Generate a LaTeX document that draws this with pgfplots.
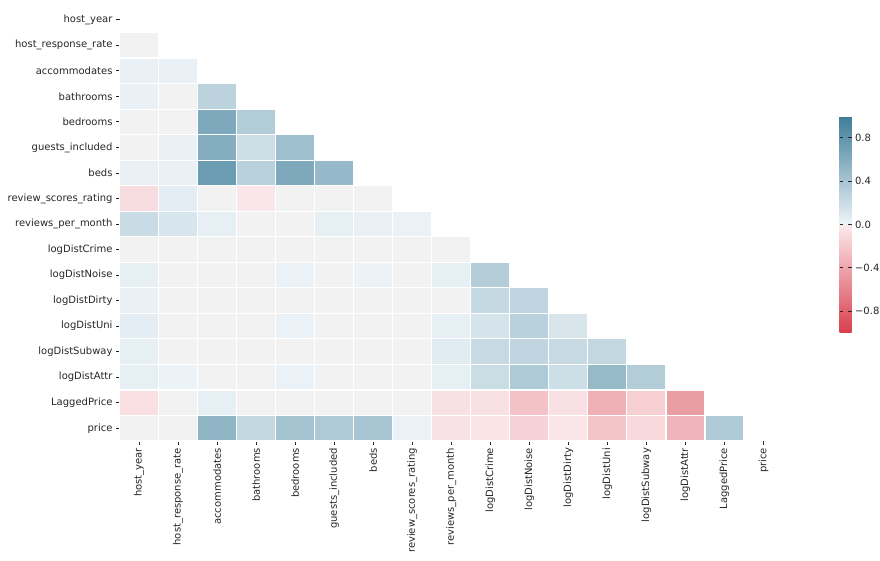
\documentclass[border=0pt]{standalone}
\usepackage{pgfplots}
\pgfplotsset{compat=1.18}
\usepackage{fontspec}
\setmainfont{DejaVu Sans}
\definecolor{txt}{gray}{0.15}
\pgfdeclareplotmark{cell}{%
  \pgfpathrectangle{\pgfpoint{-19.515pt}{-12.765pt}}{\pgfpoint{39.03pt}{25.53pt}}%
  \pgfusepathqfillstroke}
\begin{document}
\begin{tikzpicture}
\useasboundingbox (0,0) rectangle (880pt,-561pt);
\begin{axis}[
  at={(119.5pt,-7pt)}, anchor=north west,
  scale only axis, width=663.5pt, height=434pt,
  xmin=-0.5, xmax=16.5, ymin=-0.5, ymax=16.5,
  y dir=reverse,
  axis line style={draw=none},
  tick pos=left, tick align=outside,
  major tick length=3.5pt,
  tick style={txt, line width=0.8pt},
  xtick={0,...,16}, ytick={0,...,16},
  xticklabels={host\_year,host\_response\_rate,accommodates,bathrooms,bedrooms,guests\_included,beds,review\_scores\_rating,reviews\_per\_month,logDistCrime,logDistNoise,logDistDirty,logDistUni,logDistSubway,logDistAttr,LaggedPrice,price},
  yticklabels={host\_year,host\_response\_rate,accommodates,bathrooms,bedrooms,guests\_included,beds,review\_scores\_rating,reviews\_per\_month,logDistCrime,logDistNoise,logDistDirty,logDistUni,logDistSubway,logDistAttr,LaggedPrice,price},
  ticklabel style={font=\fontsize{10}{12}\selectfont, text=txt},
  xticklabel style={rotate=90, anchor=east},
  colormap={sns}{rgb255(0pt)=(216,62,76) rgb255(199pt)=(251,234,236) rgb255(200pt)=(242,242,242) rgb255(201pt)=(237,244,248) rgb255(400pt)=(61,125,152)},
  point meta min=-1, point meta max=1,
  colorbar,
  colorbar style={
    at={(parent axis.north east)}, anchor=north west,
    xshift=48pt, yshift=-109pt,
    scale only axis, width=12pt, height=217pt,
    axis line style={draw=none},
    ytick={-0.8,-0.4,0,0.4,0.8},
    yticklabels={−0.8,−0.4,0.0,0.4,0.8},
    major tick length=3.5pt,
    tick style={txt, line width=0.8pt},
    yticklabel style={font=\fontsize{10}{12}\selectfont, text=txt},
  },
]
\addplot[scatter, only marks, mark=cell, line width=1.2pt,
  point meta=explicit,
  scatter/use mapped color={draw=white, fill=mapped color}]
  table[meta=v] {
x y v
0 1 0.0
0 2 0.03
1 2 0.03
0 3 0.03
1 3 0.0
2 3 0.28
0 4 0.0
1 4 0.0
2 4 0.63
3 4 0.34
0 5 0.0
1 5 0.03
2 5 0.60
3 5 0.19
4 5 0.45
0 6 0.03
1 6 0.03
2 6 0.74
3 6 0.30
4 6 0.63
5 6 0.50
0 7 -0.08
1 7 0.06
2 7 0.0
3 7 -0.03
4 7 0.0
5 7 0.0
6 7 0.0
0 8 0.21
1 8 0.13
2 8 0.05
3 8 0.0
4 8 0.0
5 8 0.05
6 8 0.03
7 8 0.02
0 9 0.0
1 9 0.0
2 9 0.0
3 9 0.0
4 9 0.0
5 9 0.0
6 9 0.0
7 9 0.0
8 9 0.0
0 10 0.05
1 10 0.0
2 10 0.0
3 10 0.0
4 10 0.02
5 10 0.0
6 10 0.015
7 10 0.0
8 10 0.05
9 10 0.33
0 11 0.03
1 11 0.0
2 11 0.0
3 11 0.0
4 11 0.0
5 11 0.0
6 11 0.0
7 11 0.0
8 11 0.0
9 11 0.23
10 11 0.27
0 12 0.06
1 12 0.0
2 12 0.0
3 12 0.0
4 12 0.02
5 12 0.0
6 12 0.0
7 12 0.0
8 12 0.05
9 12 0.14
10 12 0.30
11 12 0.125
0 13 0.05
1 13 0.0
2 13 0.0
3 13 0.0
4 13 0.0
5 13 0.0
6 13 0.0
7 13 0.0
8 13 0.07
9 13 0.22
10 13 0.26
11 13 0.22
12 13 0.25
0 14 0.05
1 14 0.015
2 14 0.0
3 14 0.0
4 14 0.02
5 14 0.0
6 14 0.0
7 14 0.0
8 14 0.05
9 14 0.20
10 14 0.36
11 14 0.19
12 14 0.49
13 14 0.34
0 15 -0.07
1 15 0.0
2 15 0.05
3 15 0.0
4 15 0.0
5 15 0.0
6 15 0.0
7 15 0.0
8 15 -0.06
9 15 -0.06
10 15 -0.24
11 15 -0.06
12 15 -0.34
13 15 -0.16
14 15 -0.45
0 16 0.0
1 16 0.0
2 16 0.53
3 16 0.24
4 16 0.41
5 16 0.36
6 16 0.40
7 16 0.02
8 16 -0.05
9 16 -0.04
10 16 -0.15
11 16 -0.03
12 16 -0.22
13 16 -0.10
14 16 -0.31
15 16 0.36
};
\end{axis}
\end{tikzpicture}
\end{document}
